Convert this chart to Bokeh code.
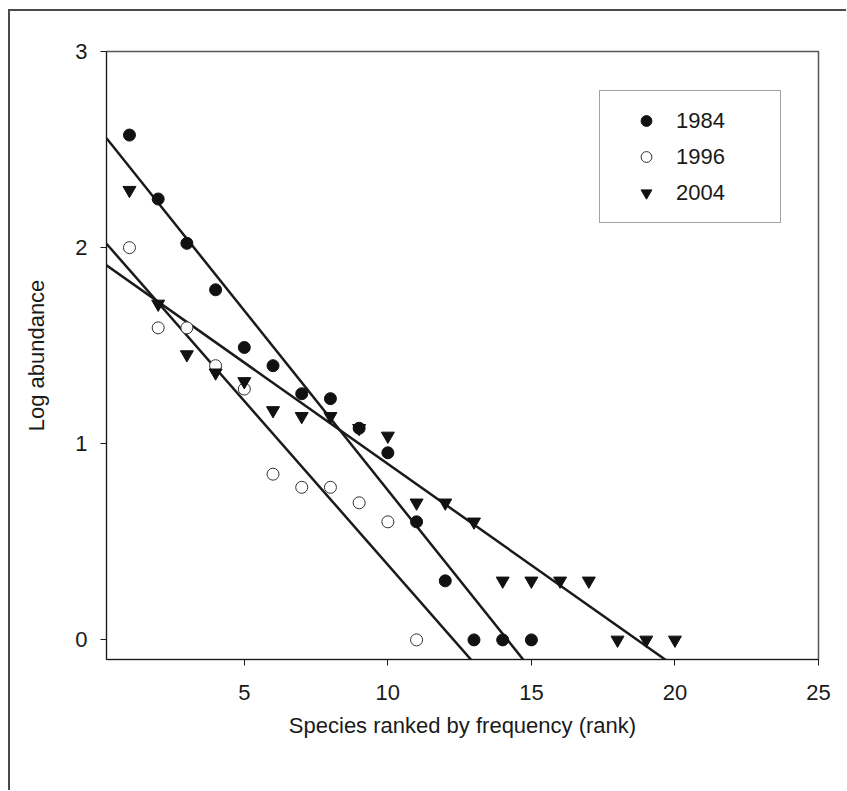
import numpy as np
from bokeh.plotting import figure
from bokeh.models import Range1d, FixedTicker, Legend, LegendItem
from bokeh.embed import file_html
from bokeh.resources import INLINE

# ---- data ----
rank_1984 = [1, 2, 3, 4, 5, 6, 7, 8, 9, 10, 11, 12, 13, 14, 15]
log_1984 = [2.574, 2.248, 2.022, 1.785, 1.491, 1.398, 1.255, 1.230, 1.079, 0.954, 0.602, 0.301, 0.0, 0.0, 0.0]

rank_1996 = [1, 2, 3, 4, 5, 6, 7, 8, 9, 10, 11]
log_1996 = [2.000, 1.591, 1.591, 1.398, 1.279, 0.845, 0.778, 0.778, 0.699, 0.602, 0.0]

rank_2004 = [1, 2, 3, 4, 5, 6, 7, 8, 9, 10, 11, 12, 13, 14, 15, 16, 17, 18, 19, 20]
log_2004 = [2.293, 1.713, 1.455, 1.362, 1.318, 1.170, 1.140, 1.140, 1.079, 1.040,
            0.699, 0.699, 0.602, 0.301, 0.301, 0.301, 0.301, 0.0, 0.0, 0.0]

x_ticks = [5, 10, 15, 20, 25]
y_ticks = [0, 1, 2, 3]
series_labels = ["1984", "1996", "2004"]

FONT = "Liberation Sans"
INK = "#1a1a1a"

p = figure(frame_width=712, frame_height=608,
           min_border_left=96, min_border_top=40, min_border_right=28, min_border_bottom=131,
           x_range=Range1d(0.2, 25), y_range=Range1d(-0.1, 3.0),
           output_backend="svg", toolbar_location=None)

p.styles = {"margin-left": "8px", "margin-top": "9px",
            "border-left": "2px solid #4a4a4a", "border-top": "2px solid #4a4a4a"}

p.grid.visible = False
p.outline_line_color = "#555555"
p.outline_line_width = 1.5
p.background_fill_color = "white"
p.border_fill_color = "white"

for ax in (p.xaxis[0], p.yaxis[0]):
    ax.axis_line_color = INK
    ax.axis_line_width = 1
    ax.major_tick_line_color = INK
    ax.major_tick_out = 6
    ax.major_tick_in = 0
    ax.minor_tick_line_color = None
    ax.major_label_text_font = FONT
    ax.major_label_text_font_size = "22px"
    ax.major_label_text_color = INK
    ax.axis_label_text_font = FONT
    ax.axis_label_text_font_size = "22px"
    ax.axis_label_text_font_style = "normal"
    ax.axis_label_text_color = INK

p.xaxis.ticker = FixedTicker(ticks=x_ticks)
p.yaxis.ticker = FixedTicker(ticks=y_ticks)
p.xaxis.axis_label = "Species ranked by frequency (rank)"
p.yaxis.axis_label = "Log abundance"
p.xaxis.major_label_standoff = 19
p.xaxis.axis_label_standoff = 10
p.yaxis.major_label_standoff = 13
p.yaxis.axis_label_standoff = 23

# regression lines (least squares on each series)
x_span = np.array([p.x_range.start, p.x_range.end])
for xs, ys in ((rank_1984, log_1984), (rank_1996, log_1996), (rank_2004, log_2004)):
    m, b = np.polyfit(np.array(xs, float), np.array(ys, float), 1)
    p.line(x_span, m * x_span + b, line_color=INK, line_width=2.5)

r84 = p.scatter(rank_1984, log_1984, marker="circle", size=12,
                fill_color="#111111", line_color="#111111")
r96 = p.scatter(rank_1996, log_1996, marker="circle", size=12,
                fill_color="white", line_color="#333333", line_width=1)
r04 = p.scatter(rank_2004, log_2004, marker="inverted_triangle", size=13,
                fill_color="#111111", line_color="#111111")

legend = Legend(items=[LegendItem(label=series_labels[0], renderers=[r84]),
                       LegendItem(label=series_labels[1], renderers=[r96]),
                       LegendItem(label=series_labels[2], renderers=[r04])],
                location=(493, 436), margin=0, padding=16, spacing=9,
                glyph_width=60, glyph_height=27, label_height=27, label_width=88,
                label_standoff=0,
                label_text_font=FONT, label_text_font_size="22px", label_text_color=INK,
                border_line_color="#444444", border_line_width=1.5,
                background_fill_color="white", background_fill_alpha=1.0)
p.add_layout(legend)

open("out.html", "w").write(file_html(p, INLINE))
